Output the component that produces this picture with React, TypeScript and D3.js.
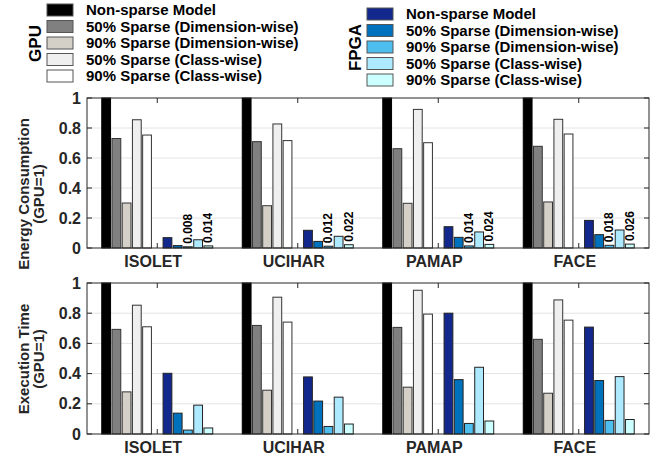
import React from "react";
import * as d3 from "d3";

const categories = ["ISOLET", "UCIHAR", "PAMAP", "FACE"];
const seriesNames = [
  "Non-sparse Model",
  "50% Sparse (Dimension-wise)",
  "90% Sparse (Dimension-wise)",
  "50% Sparse (Class-wise)",
  "90% Sparse (Class-wise)",
];
const gpuColors = ["#000000", "#808080", "#d4d0c8", "#efefef", "#ffffff"];
const fpgaColors = ["#13288c", "#0072bd", "#4dbeee", "#aeeaff", "#ccffff"];

// energy consumption (GPU=1), per category, 5 series
const energyGPU = [
  [1, 0.73, 0.3, 0.855, 0.753],
  [1, 0.709, 0.282, 0.827, 0.716],
  [1, 0.662, 0.298, 0.924, 0.702],
  [1, 0.678, 0.307, 0.858, 0.76],
];
const energyFPGA = [
  [0.069, 0.016, 0.008, 0.055, 0.014],
  [0.118, 0.044, 0.012, 0.078, 0.022],
  [0.142, 0.071, 0.014, 0.107, 0.024],
  [0.184, 0.089, 0.018, 0.12, 0.026],
];
// execution time (GPU=1)
const timeGPU = [
  [1, 0.693, 0.279, 0.853, 0.71],
  [1, 0.719, 0.29, 0.906, 0.741],
  [1, 0.706, 0.31, 0.952, 0.794],
  [1, 0.627, 0.27, 0.888, 0.754],
];
const timeFPGA = [
  [0.402, 0.138, 0.026, 0.191, 0.04],
  [0.378, 0.218, 0.05, 0.244, 0.066],
  [0.8, 0.36, 0.07, 0.442, 0.086],
  [0.708, 0.354, 0.09, 0.38, 0.096],
];
const yTicks = [0, 0.2, 0.4, 0.6, 0.8, 1];
const labeledFPGA = [2, 4];

const FONT = "'Liberation Sans', Arial, Helvetica, sans-serif";
const X0 = 87;
const X1 = 649;
const nSlots = 11;
const slot = 0.8 / nSlots;
const barW = slot * 0.86;

function Panel({ top, bottom, gpu, fpga, labels, title1, title2, titleY }) {
  const x = d3.scaleLinear().domain([0.5, 4.5]).range([X0, X1]);
  const y = d3.scaleLinear().domain([0, 1]).range([bottom, top]);
  const bars: any[] = [];
  categories.forEach((c, i) => {
    const cx = i + 1;
    gpu[i].forEach((v, j) => {
      const xc = cx + (j - 5) * slot;
      bars.push(
        <rect key={`g${i}${j}`} x={x(xc - barW / 2)} y={y(v)} width={x(xc + barW / 2) - x(xc - barW / 2)} height={y(0) - y(v)}
          fill={gpuColors[j]} stroke={j === 0 ? "#000" : "#333"} strokeWidth={1} />
      );
    });
    fpga[i].forEach((v, j) => {
      const xc = cx + (j + 1) * slot;
      bars.push(
        <rect key={`f${i}${j}`} x={x(xc - barW / 2)} y={y(v)} width={x(xc + barW / 2) - x(xc - barW / 2)} height={y(0) - y(v)}
          fill={fpgaColors[j]} stroke="#222" strokeWidth={1} />
      );
      if (labels && labeledFPGA.includes(j)) {
        const px = x(xc);
        const py = y(v) - 3;
        bars.push(
          <text key={`l${i}${j}`} x={px} y={py} transform={`rotate(-90 ${px} ${py})`} dominantBaseline="central"
            fontSize={12} fontWeight="bold" fontFamily={FONT}>{String(v)}</text>
        );
      }
    });
  });
  return (
    <g>
      {yTicks.filter((t) => t > 0 && t < 1).map((t) => (
        <line key={`gr${t}`} x1={X0} x2={X1} y1={y(t)} y2={y(t)} stroke="#e4e4e4" strokeWidth={1} />
      ))}
      {bars}
      <rect x={X0} y={top} width={X1 - X0} height={bottom - top} fill="none" stroke="#262626" strokeWidth={1} />
      {yTicks.map((t) => (
        <g key={`yt${t}`}>
          <line x1={X0} x2={X0 + 5} y1={y(t)} y2={y(t)} stroke="#262626" />
          <line x1={X1} x2={X1 - 5} y1={y(t)} y2={y(t)} stroke="#262626" />
          <text x={81} y={y(t)} textAnchor="end" dominantBaseline="central" fontSize={16} fontWeight="bold" fontFamily={FONT} fill="#262626">{String(t)}</text>
        </g>
      ))}
      {categories.map((c, i) => (
        <g key={`xt${c}`}>
          <line x1={x(i + 1)} x2={x(i + 1)} y1={bottom} y2={bottom - 5} stroke="#262626" />
          <line x1={x(i + 1)} x2={x(i + 1)} y1={top} y2={top + 5} stroke="#262626" />
          <text x={x(i + 1) - 4} y={bottom + 19} textAnchor="middle" fontSize={16} fontWeight="bold" fontFamily={FONT} fill="#262626">{c}</text>
        </g>
      ))}
      <text transform={`translate(23 ${titleY}) rotate(-90)`} textAnchor="middle" dominantBaseline="central" fontSize={15} fontWeight="bold" fontFamily={FONT} fill="#262626">{title1}</text>
      <text transform={`translate(38 ${titleY}) rotate(-90)`} textAnchor="middle" dominantBaseline="central" fontSize={15} fontWeight="bold" fontFamily={FONT} fill="#262626">{title2}</text>
    </g>
  );
}

function Legend({ x0, y0, colors, title, titleX, titleY }) {
  return (
    <g>
      {seriesNames.map((n, j) => (
        <g key={n}>
          <rect x={x0} y={y0 + j * 16.5} width={26} height={12} fill={colors[j]} stroke="#555" strokeWidth={1} />
          <text x={x0 + 39} y={y0 + j * 16.5 + 11} fontSize={15} fontWeight="bold" fontFamily={FONT} fill="#000">{n}</text>
        </g>
      ))}
      <text transform={`translate(${titleX} ${titleY}) rotate(-90)`} textAnchor="middle" dominantBaseline="central" fontSize={17} fontWeight="bold" fontFamily={FONT}>{title}</text>
    </g>
  );
}

export default function App() {
  return (
    <svg width={660} height={460} style={{ position: "absolute", left: 0, top: 0, background: "#fff" }}>
      <rect width={660} height={460} fill="#fff" />
      <Legend x0={47} y0={4} colors={gpuColors} title="GPU" titleX={35} titleY={43.5} />
      <Legend x0={367} y0={8} colors={fpgaColors} title="FPGA" titleX={355} titleY={47.5} />
      <Panel top={98} bottom={248} gpu={energyGPU} fpga={energyFPGA} labels={true} title1="Energy Consumption" title2="(GPU=1)" titleY={194} />
      <Panel top={283} bottom={434} gpu={timeGPU} fpga={timeFPGA} labels={false} title1="Execution Time" title2="(GPU=1)" titleY={359} />
    </svg>
  );
}
